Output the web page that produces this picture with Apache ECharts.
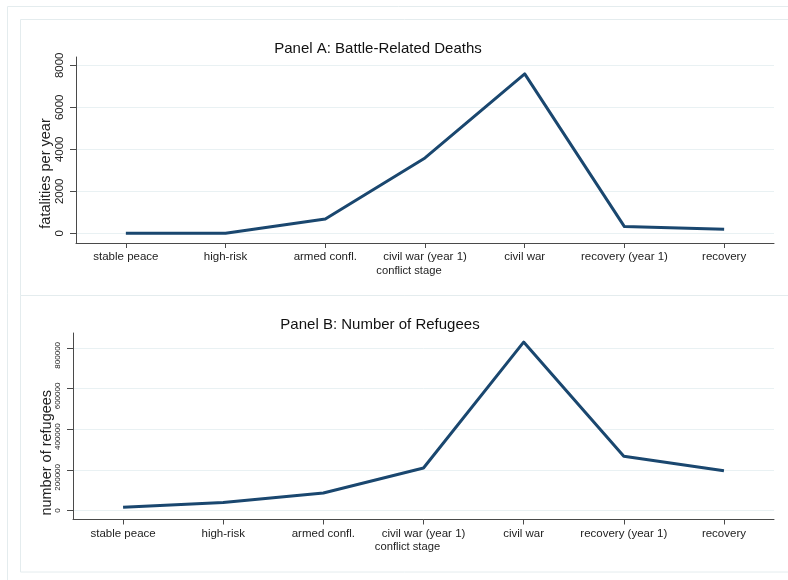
<!DOCTYPE html>
<html>
<head>
<meta charset="utf-8">
<script src="https://cdn.jsdelivr.net/npm/echarts@6/dist/echarts.min.js"></script>
<style>
  html, body { margin: 0; padding: 0; background: #fff; }
  #chart { width: 788px; height: 580px; }
</style>
</head>
<body>
<div id="chart"></div>
<script>
// Conflict stages along the horizontal axis
const stages = ['stable peace', 'high-risk', 'armed confl.', 'civil war (year 1)', 'civil war', 'recovery (year 1)', 'recovery'];
// Panel A: battle-related fatalities per year
const deaths = [0, 0, 680, 3590, 7590, 320, 190];
const deathTicks = [0, 2000, 4000, 6000, 8000];
// Panel B: number of refugees
const refugees = [16000, 39000, 86000, 209000, 828000, 267000, 195000];
const refugeeTicks = [0, 200000, 400000, 600000, 800000];

const FONT = '"Liberation Sans", Arial, Helvetica, sans-serif';
const LINE = '#1a476f';
const AXIS = '#4a4a4a';
const GRIDC = '#e9f1f3';
const FRAME = '#e4ecee';
const TEXT = '#222';

const chart = echarts.init(document.getElementById('chart'), null, { renderer: 'canvas' });

function xAxisFor(gridIndex) {
  return {
    type: 'category',
    gridIndex: gridIndex,
    data: stages,
    boundaryGap: true,
    name: 'conflict stage',
    nameLocation: 'middle',
    nameGap: 22,
    nameMoveOverlap: false,
    nameTextStyle: { fontFamily: FONT, fontSize: 11.2, color: TEXT, padding: [0, 32, 0, 0] },
    axisLine: { show: true, onZero: false, lineStyle: { color: AXIS, width: 1 } },
    axisTick: { show: true, alignWithLabel: true, length: 5, lineStyle: { color: AXIS } },
    axisLabel: { fontFamily: FONT, fontSize: 11.5, color: TEXT, margin: 8, interval: 0 },
    splitLine: { show: false }
  };
}

const plain = v => String(v);
// Small refugee labels sit a little below their tick, as in the original layout
const refugeeLabel = v => (v === 0 ? '{z|0}' : '{n|' + v + '}');

const option = {
  backgroundColor: '#fff',
  animation: false,
  graphic: [
    { type: 'rect', silent: true, z: -10, shape: { x: 7.5, y: 6.5, width: 900, height: 700 },
      style: { fill: 'none', stroke: FRAME, lineWidth: 1 } },
    { type: 'rect', silent: true, z: -10, shape: { x: 20.5, y: 19.5, width: 900, height: 276 },
      style: { fill: 'none', stroke: FRAME, lineWidth: 1 } },
    { type: 'rect', silent: true, z: -10, shape: { x: 20.5, y: 295.5, width: 900, height: 276.5 },
      style: { fill: 'none', stroke: FRAME, lineWidth: 1 } }
  ],
  title: [
    { text: 'Panel A: Battle-Related Deaths', left: 373, top: 36, textAlign: 'center',
      textStyle: { fontFamily: FONT, fontSize: 15, fontWeight: 'normal', color: '#111' } },
    { text: 'Panel B: Number of Refugees', left: 375, top: 312, textAlign: 'center',
      textStyle: { fontFamily: FONT, fontSize: 15, fontWeight: 'normal', color: '#111' } }
  ],
  grid: [
    { left: 76, right: 14, top: 57, height: 186 },
    { left: 73, right: 14, top: 333, height: 186.5 }
  ],
  xAxis: [xAxisFor(0), xAxisFor(1)],
  yAxis: [
    {
      type: 'value', gridIndex: 0, min: -462, max: 8395,
      name: 'fatalities per year', nameLocation: 'middle', nameRotate: 90, nameGap: 23,
      nameMoveOverlap: false,
      nameTextStyle: { fontFamily: FONT, fontSize: 14.5, color: TEXT, padding: [0, 47, 0, 0] },
      axisLine: { show: true, onZero: false, lineStyle: { color: AXIS, width: 1 } },
      axisTick: { show: true, length: 6, customValues: deathTicks, lineStyle: { color: AXIS } },
      axisLabel: { rotate: 90, fontFamily: FONT, fontSize: 11.5, color: TEXT, margin: 10,
        customValues: deathTicks, formatter: plain },
      splitLine: { show: true, lineStyle: { color: GRIDC, width: 1 } }
    },
    {
      type: 'value', gridIndex: 1, min: -44200, max: 872700,
      name: 'number of refugees', nameLocation: 'middle', nameRotate: 90, nameGap: 19,
      nameMoveOverlap: false,
      nameTextStyle: { fontFamily: FONT, fontSize: 14.5, color: TEXT, padding: [0, 53, 0, 0] },
      axisLine: { show: true, onZero: false, lineStyle: { color: AXIS, width: 1 } },
      axisTick: { show: true, length: 6, customValues: refugeeTicks, lineStyle: { color: AXIS } },
      axisLabel: { rotate: 90, fontFamily: FONT, fontSize: 8, color: TEXT, margin: 11,
        customValues: refugeeTicks, formatter: refugeeLabel,
        rich: {
          z: { fontFamily: FONT, fontSize: 8, color: TEXT },
          n: { fontFamily: FONT, fontSize: 8, color: TEXT, padding: [0, 15, 0, 0] }
        } },
      splitLine: { show: true, lineStyle: { color: GRIDC, width: 1 } }
    }
  ],
  series: [
    { type: 'line', xAxisIndex: 0, yAxisIndex: 0, data: deaths, showSymbol: false, symbol: 'none',
      lineStyle: { color: LINE, width: 3, join: 'round' } },
    { type: 'line', xAxisIndex: 1, yAxisIndex: 1, data: refugees, showSymbol: false, symbol: 'none',
      lineStyle: { color: LINE, width: 3, join: 'round' } }
  ]
};

chart.setOption(option);
</script>
</body>
</html>
